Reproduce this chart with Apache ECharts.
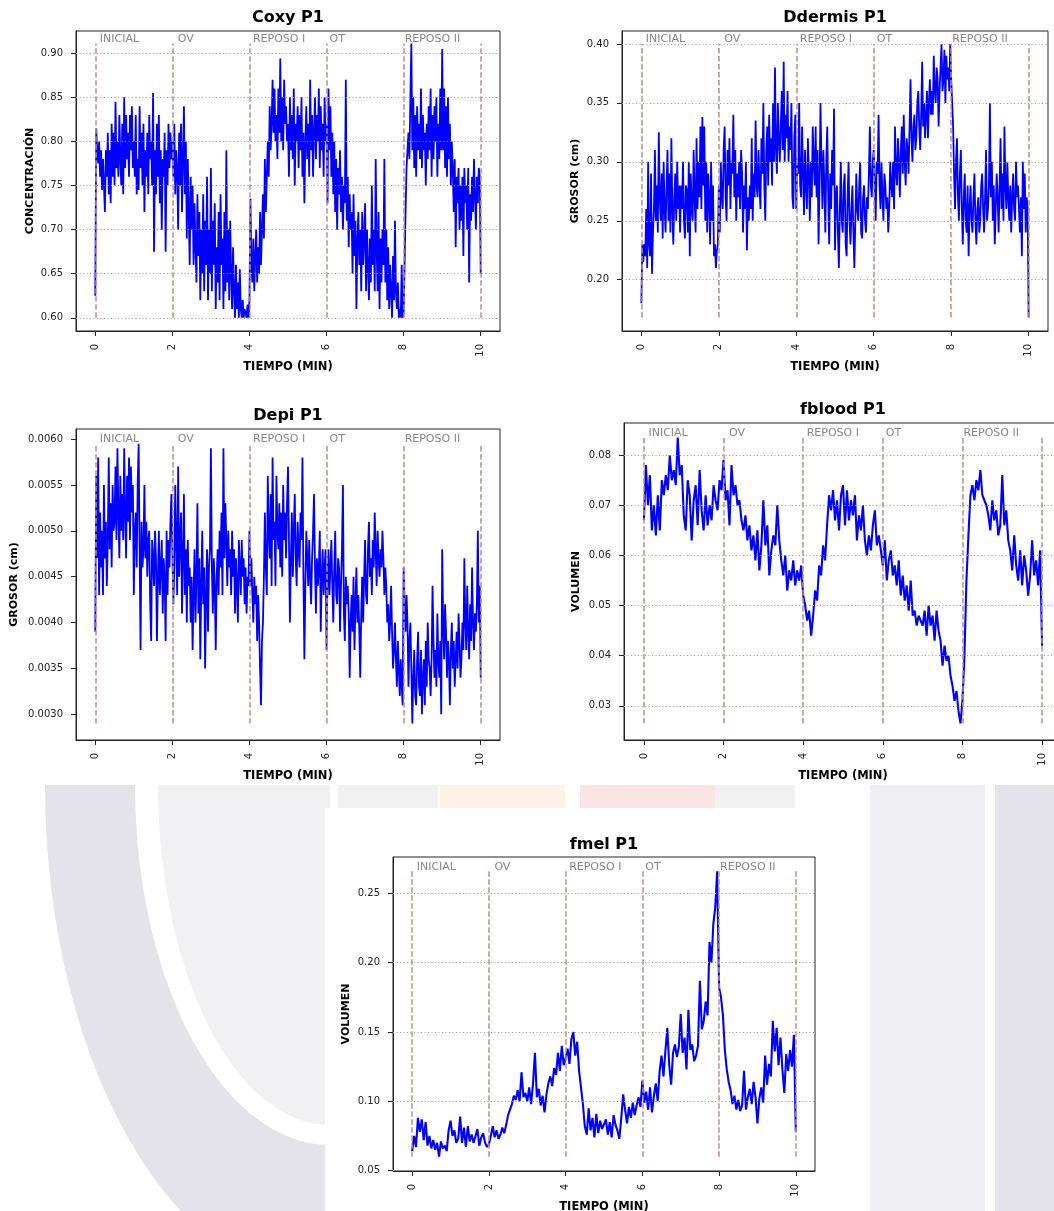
<!DOCTYPE html>
<html>
<head>
<meta charset="utf-8">
<script src="https://cdn.jsdelivr.net/npm/echarts@6.0.0/dist/echarts.min.js"></script>
<style>
    html, body { margin: 0; padding: 0; background: #fff; }
    #main { width: 1054px; height: 1211px; }
</style>
</head>
<body>
<div id="main"></div>
<script>
    // tiempo en minutos: 0.05 min por muestra (fblood, fmel) y 0.025 min (coxy, ddermis, depi)
    const tiempo = Array.from({length: 201}, (_, i) => +(i * 0.05).toFixed(2))
    const tiempoFino = Array.from({length: 401}, (_, i) => +(i * 0.025).toFixed(3))

    // fases del protocolo
    const faseNombres = ['INICIAL', 'OV', 'REPOSO I', 'OT', 'REPOSO II']
    const faseInicio = [0, 2, 4, 6, 8]
    const lineasFase = [0, 2, 4, 6, 8, 10]
    const xTicks = [0, 2, 4, 6, 8, 10]

    const coxy = [
        0.625, 0.815, 0.79, 0.775, 0.80, 0.76, 0.79, 0.745, 0.78, 0.75, 0.72, 0.79, 0.76, 0.81, 0.74, 0.79, 0.73, 0.82, 0.76, 0.81,
        0.75, 0.845, 0.77, 0.80, 0.76, 0.83, 0.78, 0.75, 0.82, 0.74, 0.85, 0.77, 0.83, 0.78, 0.81, 0.76, 0.83, 0.79, 0.84, 0.77,
        0.80, 0.76, 0.83, 0.74, 0.78, 0.745, 0.84, 0.77, 0.81, 0.75, 0.82, 0.72, 0.79, 0.76, 0.81, 0.74, 0.83, 0.78, 0.80, 0.75,
        0.855, 0.675, 0.79, 0.74, 0.82, 0.76, 0.83, 0.73, 0.79, 0.70, 0.78, 0.76, 0.81, 0.675, 0.79, 0.75, 0.82, 0.77, 0.81, 0.78,
        0.80, 0.76, 0.82, 0.74, 0.79, 0.77, 0.70, 0.81, 0.75, 0.82, 0.72, 0.78, 0.84, 0.74, 0.80, 0.69, 0.78, 0.72, 0.66, 0.76,
        0.70, 0.75, 0.66, 0.73, 0.68, 0.64, 0.74, 0.67, 0.72, 0.62, 0.70, 0.65, 0.74, 0.63, 0.71, 0.66, 0.76, 0.62, 0.70, 0.65,
        0.77, 0.63, 0.71, 0.66, 0.73, 0.61, 0.68, 0.64, 0.72, 0.62, 0.74, 0.66, 0.69, 0.61, 0.72, 0.63, 0.79, 0.64, 0.70, 0.62,
        0.71, 0.65, 0.61, 0.68, 0.63, 0.60, 0.66, 0.61, 0.64, 0.60, 0.655, 0.61, 0.60, 0.62, 0.60, 0.61, 0.605, 0.60, 0.615, 0.60,
        0.62, 0.735, 0.66, 0.64, 0.69, 0.63, 0.67, 0.70, 0.64, 0.68, 0.65, 0.72, 0.66, 0.70, 0.74, 0.69, 0.78, 0.72, 0.76, 0.80,
        0.76, 0.84, 0.79, 0.82, 0.87, 0.81, 0.86, 0.80, 0.83, 0.78, 0.86, 0.81, 0.894, 0.80, 0.85, 0.79, 0.87, 0.82, 0.84, 0.80,
        0.82, 0.76, 0.85, 0.79, 0.83, 0.78, 0.86, 0.75, 0.82, 0.80, 0.84, 0.77, 0.83, 0.79, 0.85, 0.76, 0.81, 0.73, 0.80, 0.84,
        0.78, 0.82, 0.76, 0.87, 0.79, 0.83, 0.76, 0.81, 0.85, 0.78, 0.83, 0.80, 0.86, 0.77, 0.84, 0.79, 0.82, 0.76, 0.85, 0.80,
        0.82, 0.73, 0.86, 0.79, 0.84, 0.76, 0.81, 0.74, 0.80, 0.72, 0.78, 0.70, 0.77, 0.74, 0.79, 0.72, 0.76, 0.70, 0.75, 0.73,
        0.87, 0.71, 0.76, 0.68, 0.74, 0.70, 0.72, 0.65, 0.74, 0.67, 0.71, 0.61, 0.69, 0.72, 0.66, 0.70, 0.63, 0.72, 0.66, 0.69,
        0.73, 0.63, 0.70, 0.66, 0.62, 0.69, 0.64, 0.75, 0.66, 0.70, 0.63, 0.78, 0.68, 0.63, 0.72, 0.61, 0.69, 0.64, 0.70, 0.66,
        0.78, 0.64, 0.70, 0.62, 0.68, 0.61, 0.66, 0.63, 0.60, 0.67, 0.62, 0.71, 0.63, 0.61, 0.64, 0.60, 0.61, 0.60, 0.66, 0.60,
        0.605, 0.66, 0.72, 0.77, 0.79, 0.81, 0.78, 0.85, 0.911, 0.79, 0.85, 0.77, 0.83, 0.76, 0.84, 0.79, 0.82, 0.78, 0.86, 0.77,
        0.83, 0.79, 0.81, 0.75, 0.82, 0.78, 0.84, 0.79, 0.86, 0.76, 0.83, 0.78, 0.84, 0.80, 0.85, 0.76, 0.82, 0.78, 0.86, 0.79,
        0.905, 0.79, 0.86, 0.77, 0.84, 0.76, 0.85, 0.78, 0.82, 0.75, 0.80, 0.77, 0.72, 0.78, 0.68, 0.76, 0.73, 0.77, 0.70, 0.75,
        0.71, 0.76, 0.67, 0.77, 0.73, 0.75, 0.70, 0.77, 0.64, 0.74, 0.71, 0.76, 0.72, 0.78, 0.74, 0.70, 0.76, 0.73, 0.77, 0.76,
        0.65
    ]
    const ddermis = [
        0.18, 0.23, 0.215, 0.23, 0.22, 0.26, 0.21, 0.30, 0.23, 0.22, 0.29, 0.205, 0.24, 0.26, 0.31, 0.25, 0.28, 0.24, 0.325, 0.27,
        0.25, 0.29, 0.235, 0.30, 0.26, 0.24, 0.28, 0.31, 0.25, 0.29, 0.24, 0.32, 0.26, 0.23, 0.27, 0.29, 0.25, 0.30, 0.26, 0.28,
        0.24, 0.28, 0.26, 0.30, 0.25, 0.235, 0.28, 0.275, 0.24, 0.30, 0.22, 0.29, 0.26, 0.25, 0.31, 0.27, 0.24, 0.32, 0.26, 0.30,
        0.27, 0.33, 0.26, 0.338, 0.28, 0.33, 0.25, 0.30, 0.24, 0.29, 0.27, 0.23, 0.30, 0.25, 0.28, 0.22, 0.23, 0.21, 0.225, 0.23,
        0.28, 0.24, 0.30, 0.27, 0.26, 0.31, 0.33, 0.27, 0.25, 0.31, 0.28, 0.32, 0.26, 0.30, 0.29, 0.34, 0.27, 0.31, 0.25, 0.29,
        0.27, 0.30, 0.26, 0.31, 0.29, 0.24, 0.28, 0.26, 0.30, 0.225, 0.27, 0.25, 0.28, 0.26, 0.32, 0.25, 0.29, 0.27, 0.335, 0.28,
        0.27, 0.31, 0.28, 0.26, 0.32, 0.29, 0.35, 0.28, 0.25, 0.31, 0.33, 0.28, 0.34, 0.30, 0.32, 0.28, 0.35, 0.30, 0.38, 0.31,
        0.29, 0.35, 0.32, 0.30, 0.33, 0.36, 0.31, 0.385, 0.30, 0.34, 0.32, 0.36, 0.30, 0.33, 0.31, 0.35, 0.27, 0.26, 0.32, 0.34,
        0.26, 0.30, 0.29, 0.35, 0.28, 0.27, 0.33, 0.29, 0.255, 0.31, 0.28, 0.26, 0.32, 0.29, 0.25, 0.30, 0.27, 0.33, 0.30, 0.28,
        0.33, 0.27, 0.31, 0.23, 0.28, 0.35, 0.30, 0.26, 0.31, 0.28, 0.24, 0.30, 0.33, 0.27, 0.23, 0.29, 0.26, 0.31, 0.28, 0.345,
        0.225, 0.27, 0.28, 0.24, 0.21, 0.26, 0.30, 0.25, 0.24, 0.28, 0.29, 0.23, 0.22, 0.27, 0.30, 0.25, 0.23, 0.26, 0.28, 0.24,
        0.21, 0.25, 0.29, 0.26, 0.25, 0.28, 0.30, 0.24, 0.235, 0.27, 0.28, 0.25, 0.24, 0.27, 0.26, 0.29, 0.33, 0.28, 0.27, 0.30,
        0.31, 0.28, 0.25, 0.30, 0.29, 0.34, 0.28, 0.26, 0.30, 0.27, 0.25, 0.29, 0.28, 0.26, 0.27, 0.24, 0.26, 0.30, 0.28, 0.27,
        0.30, 0.26, 0.33, 0.29, 0.28, 0.32, 0.30, 0.27, 0.31, 0.33, 0.29, 0.34, 0.30, 0.28, 0.32, 0.31, 0.29, 0.33, 0.37, 0.32,
        0.30, 0.33, 0.34, 0.31, 0.32, 0.35, 0.36, 0.33, 0.31, 0.34, 0.385, 0.33, 0.35, 0.32, 0.34, 0.36, 0.32, 0.35, 0.37, 0.34,
        0.36, 0.34, 0.39, 0.36, 0.35, 0.38, 0.37, 0.33, 0.36, 0.38, 0.40, 0.36, 0.37, 0.395, 0.35, 0.39, 0.37, 0.38, 0.36, 0.40,
        0.37, 0.35, 0.33, 0.29, 0.26, 0.30, 0.32, 0.27, 0.25, 0.29, 0.31, 0.26, 0.23, 0.27, 0.29, 0.25, 0.24, 0.28, 0.22, 0.26,
        0.28, 0.25, 0.24, 0.27, 0.29, 0.25, 0.23, 0.26, 0.27, 0.24, 0.25, 0.28, 0.29, 0.26, 0.24, 0.27, 0.31, 0.25, 0.26, 0.28,
        0.35, 0.27, 0.30, 0.25, 0.28, 0.23, 0.26, 0.29, 0.27, 0.24, 0.28, 0.32, 0.26, 0.29, 0.25, 0.33, 0.28, 0.26, 0.30, 0.27,
        0.25, 0.28, 0.24, 0.27, 0.29, 0.26, 0.25, 0.30, 0.27, 0.28, 0.26, 0.24, 0.27, 0.22, 0.30, 0.26, 0.29, 0.24, 0.27, 0.26,
        0.168
    ]
    const depi = [
        0.0039, 0.0056, 0.0047, 0.0058, 0.0043, 0.0052, 0.0046, 0.0050, 0.0043, 0.0055, 0.0047, 0.0051, 0.0044, 0.0049, 0.0058, 0.0048, 0.0053, 0.0046, 0.0055, 0.0050,
        0.0051, 0.0057, 0.0049, 0.0059, 0.0052, 0.0047, 0.0056, 0.0050, 0.0054, 0.0049, 0.0059, 0.0052, 0.0047, 0.0056, 0.0051, 0.0058, 0.0049, 0.0057, 0.0052, 0.0055,
        0.0043, 0.0050, 0.0052, 0.0046, 0.0055, 0.00595, 0.0048, 0.0037, 0.0051, 0.0046, 0.0048, 0.0055, 0.0047, 0.0051, 0.0045, 0.0049, 0.0050, 0.0042, 0.0038, 0.0049,
        0.0047, 0.0044, 0.0050, 0.0047, 0.0038, 0.0045, 0.0050, 0.0043, 0.0046, 0.0049, 0.0041, 0.0047, 0.0045, 0.0038, 0.0050, 0.0043, 0.0049, 0.0046, 0.0051, 0.0054,
        0.0048, 0.0042, 0.0046, 0.0055, 0.0049, 0.0043, 0.0057, 0.0045, 0.0049, 0.0052, 0.0041, 0.0047, 0.0054, 0.0043, 0.0048, 0.0040, 0.0049, 0.0044, 0.0046, 0.0040,
        0.0045, 0.0037, 0.0043, 0.0048, 0.0040, 0.0045, 0.0053, 0.0041, 0.0047, 0.0036, 0.0044, 0.0050, 0.0042, 0.0046, 0.0035, 0.0043, 0.0048, 0.0039, 0.0046, 0.0048,
        0.0059, 0.0046, 0.0041, 0.0047, 0.0044, 0.0037, 0.0045, 0.0048, 0.0043, 0.0050, 0.0046, 0.0052, 0.0043, 0.0059, 0.0047, 0.0053, 0.0049, 0.0044, 0.0050, 0.0046,
        0.0048, 0.0043, 0.0050, 0.0045, 0.0048, 0.0041, 0.0047, 0.0044, 0.0040, 0.0049, 0.0046, 0.0043, 0.0049, 0.0045, 0.0047, 0.0042, 0.0046, 0.0041, 0.0045, 0.0044,
        0.0050, 0.0044, 0.0047, 0.0043, 0.0040, 0.0045, 0.0042, 0.0044, 0.0038, 0.0043, 0.0040, 0.0035, 0.0031, 0.0038, 0.0040, 0.0045, 0.0052, 0.0046, 0.0043, 0.0056,
        0.0050, 0.0047, 0.0054, 0.0044, 0.0058, 0.0049, 0.0051, 0.0044, 0.0056, 0.0050, 0.0048, 0.0053, 0.0046, 0.0052, 0.0045, 0.0055, 0.0049, 0.0052, 0.0047, 0.0053,
        0.0057, 0.0049, 0.0040, 0.0047, 0.0052, 0.0045, 0.0050, 0.0054, 0.0047, 0.0044, 0.0051, 0.0048, 0.0046, 0.0052, 0.0049, 0.0058, 0.0045, 0.0036, 0.0044, 0.0050,
        0.0047, 0.0044, 0.0049, 0.0045, 0.0042, 0.0047, 0.0050, 0.0054, 0.0046, 0.0041, 0.0047, 0.0044, 0.0046, 0.0050, 0.0039, 0.0045, 0.0048, 0.0043, 0.0046, 0.0048,
        0.0037, 0.0045, 0.0048, 0.0043, 0.0046, 0.0049, 0.0044, 0.0040, 0.0046, 0.0050, 0.0043, 0.0042, 0.0047, 0.0046, 0.0039, 0.0044, 0.0048, 0.0055, 0.0041, 0.0038,
        0.0045, 0.0042, 0.0044, 0.0041, 0.0034, 0.0040, 0.0043, 0.0039, 0.0045, 0.0037, 0.0042, 0.0046, 0.0040, 0.0043, 0.0039, 0.0034, 0.0041, 0.0045, 0.0040, 0.0045,
        0.0049, 0.0043, 0.0042, 0.0048, 0.0051, 0.0045, 0.0047, 0.0043, 0.0049, 0.0046, 0.0052, 0.0048, 0.0044, 0.0050, 0.0047, 0.0045, 0.0048, 0.0046, 0.0050, 0.0047,
        0.0043, 0.0046, 0.0044, 0.0040, 0.0042, 0.0038, 0.0040, 0.0044, 0.0039, 0.0035, 0.0037, 0.0040, 0.0036, 0.0033, 0.0038, 0.0035, 0.0032, 0.0036, 0.0033, 0.0031,
        0.0046, 0.0042, 0.0039, 0.0043, 0.0040, 0.0033, 0.0038, 0.0040, 0.0035, 0.0029, 0.0034, 0.0037, 0.0032, 0.0031, 0.0036, 0.0039, 0.0033, 0.0032, 0.0037, 0.0030,
        0.0034, 0.0036, 0.0031, 0.0038, 0.0033, 0.0040, 0.0036, 0.0035, 0.0032, 0.0036, 0.0044, 0.0038, 0.0034, 0.0037, 0.0033, 0.0041, 0.0036, 0.0034, 0.0038, 0.0030,
        0.0048, 0.0040, 0.0036, 0.0042, 0.0039, 0.0034, 0.0038, 0.0036, 0.0031, 0.0037, 0.0040, 0.0035, 0.0038, 0.0033, 0.0036, 0.0039, 0.0035, 0.0041, 0.0038, 0.0034,
        0.0036, 0.0040, 0.0037, 0.0047, 0.0040, 0.0037, 0.0044, 0.0039, 0.0036, 0.0042, 0.0038, 0.0046, 0.0040, 0.0037, 0.0041, 0.0039, 0.0042, 0.0050, 0.0040, 0.0044,
        0.0034
    ]
    const fblood = [
        0.067, 0.078, 0.070, 0.076, 0.065, 0.070, 0.064, 0.072, 0.065, 0.075, 0.072, 0.076, 0.073, 0.080, 0.075, 0.077, 0.074, 0.0835, 0.076, 0.078,
        0.068, 0.065, 0.075, 0.072, 0.063, 0.071, 0.074, 0.066, 0.077, 0.069, 0.065, 0.072, 0.066, 0.070, 0.067, 0.074, 0.071, 0.069, 0.075, 0.073,
        0.079, 0.071, 0.073, 0.066, 0.078, 0.072, 0.074, 0.070, 0.071, 0.067, 0.065, 0.068, 0.063, 0.066, 0.061, 0.064, 0.059, 0.065, 0.057, 0.062,
        0.071, 0.062, 0.066, 0.056, 0.061, 0.064, 0.062, 0.070, 0.063, 0.059, 0.056, 0.060, 0.053, 0.057, 0.055, 0.059, 0.054, 0.057, 0.055, 0.058,
        0.052, 0.050, 0.047, 0.049, 0.044, 0.048, 0.053, 0.051, 0.058, 0.056, 0.062, 0.059, 0.066, 0.072, 0.069, 0.073, 0.067, 0.071, 0.065, 0.072,
        0.074, 0.066, 0.073, 0.067, 0.071, 0.068, 0.072, 0.063, 0.068, 0.065, 0.070, 0.063, 0.060, 0.064, 0.061, 0.066, 0.069, 0.062, 0.064, 0.061,
        0.058, 0.063, 0.055, 0.059, 0.061, 0.056, 0.058, 0.054, 0.059, 0.052, 0.056, 0.051, 0.054, 0.049, 0.055, 0.048, 0.049, 0.046, 0.048, 0.047,
        0.046, 0.049, 0.044, 0.050, 0.046, 0.048, 0.043, 0.049, 0.045, 0.043, 0.038, 0.042, 0.039, 0.040, 0.036, 0.034, 0.031, 0.033, 0.029, 0.0265,
        0.031, 0.040, 0.055, 0.064, 0.072, 0.074, 0.071, 0.075, 0.073, 0.077, 0.072, 0.071, 0.070, 0.068, 0.065, 0.071, 0.067, 0.069, 0.064, 0.066,
        0.076, 0.066, 0.069, 0.063, 0.061, 0.057, 0.064, 0.058, 0.055, 0.061, 0.054, 0.060, 0.057, 0.052, 0.056, 0.063, 0.056, 0.059, 0.054, 0.061,
        0.042
    ]
    const fmel = [
        0.064, 0.075, 0.067, 0.088, 0.078, 0.087, 0.072, 0.085, 0.068, 0.075, 0.066, 0.072, 0.065, 0.070, 0.060, 0.071, 0.066, 0.068, 0.064, 0.079,
        0.086, 0.075, 0.079, 0.070, 0.073, 0.089, 0.070, 0.081, 0.067, 0.082, 0.071, 0.076, 0.070, 0.075, 0.080, 0.068, 0.074, 0.077, 0.070, 0.067,
        0.069, 0.075, 0.082, 0.074, 0.079, 0.073, 0.076, 0.081, 0.077, 0.083, 0.090, 0.094, 0.098, 0.104, 0.101, 0.108, 0.100, 0.121, 0.103, 0.106,
        0.100, 0.110, 0.098, 0.113, 0.135, 0.103, 0.109, 0.097, 0.104, 0.092, 0.105, 0.113, 0.118, 0.111, 0.124, 0.119, 0.135, 0.122, 0.140, 0.126,
        0.131, 0.138, 0.127, 0.145, 0.150, 0.133, 0.143, 0.122, 0.110, 0.098, 0.082, 0.076, 0.095, 0.079, 0.088, 0.074, 0.091, 0.077, 0.086, 0.080,
        0.079, 0.087, 0.076, 0.085, 0.074, 0.090, 0.083, 0.079, 0.073, 0.088, 0.105, 0.094, 0.084, 0.096, 0.088, 0.099, 0.090, 0.097, 0.103, 0.096,
        0.115, 0.099, 0.107, 0.094, 0.110, 0.092, 0.104, 0.113, 0.100, 0.122, 0.133, 0.118, 0.136, 0.153, 0.126, 0.112, 0.135, 0.141, 0.132, 0.139,
        0.163, 0.135, 0.146, 0.123, 0.166, 0.137, 0.141, 0.129, 0.133, 0.140, 0.187, 0.152, 0.158, 0.172, 0.162, 0.215, 0.200, 0.228, 0.240, 0.266,
        0.182, 0.175, 0.162, 0.137, 0.123, 0.114, 0.108, 0.098, 0.104, 0.094, 0.101, 0.093, 0.097, 0.122, 0.094, 0.103, 0.109, 0.098, 0.114, 0.103,
        0.084, 0.102, 0.110, 0.099, 0.133, 0.112, 0.127, 0.118, 0.158, 0.136, 0.153, 0.126, 0.146, 0.123, 0.106, 0.134, 0.122, 0.137, 0.125, 0.148,
        0.078
    ]

    const coxyTicks = [0.60, 0.65, 0.70, 0.75, 0.80, 0.85, 0.90]
    const ddermisTicks = [0.20, 0.25, 0.30, 0.35, 0.40]
    const depiTicks = [0.0030, 0.0035, 0.0040, 0.0045, 0.0050, 0.0055, 0.0060]
    const fbloodTicks = [0.03, 0.04, 0.05, 0.06, 0.07, 0.08]
    const fmelTicks = [0.05, 0.10, 0.15, 0.20, 0.25]

    const FONT = 'DejaVu Sans'
    // desplazamiento (px) de cada etiqueta de fase respecto a su linea
    const faseOffset = [4.5, 5.5, 3.5, 3, 1]

    // caja = [left, top, width, height] del area de trazado
    const paneles = [
        {titulo: 'Coxy P1', tituloTop: 10, nombreY: 'CONCENTRACIÓN', datos: coxy, ticks: coxyTicks, dec: 2, rango: [0.585, 0.9253], caja: [76, 31, 424, 300], gapY: 40, grosor: 1.8},
        {titulo: 'Ddermis P1', tituloTop: 10, nombreY: 'GROSOR (cm)', datos: ddermis, ticks: ddermisTicks, dec: 2, rango: [0.1565, 0.411], caja: [622, 31, 426, 300], gapY: 41, grosor: 1.8},
        {titulo: 'Depi P1', tituloTop: 408, nombreY: 'GROSOR (cm)', datos: depi, ticks: depiTicks, dec: 4, rango: [0.00272, 0.00611], caja: [76, 429, 424, 311], gapY: 56, grosor: 1.8},
        {titulo: 'fblood P1', tituloTop: 402, nombreY: 'VOLUMEN', datos: fblood, ticks: fbloodTicks, dec: 2, rango: [0.0232, 0.0864], caja: [624, 423, 438, 317], gapY: 42, grosor: 2.1},
        {titulo: 'fmel P1', tituloTop: 837, nombreY: 'VOLUMEN', datos: fmel, ticks: fmelTicks, dec: 2, rango: [0.0497, 0.2763], caja: [393, 857, 422, 314], gapY: 41, grosor: 2.1},
    ]

    const chart = echarts.init(document.getElementById('main'), null, {renderer: 'canvas'})

    const title = [], grid = [], xAxis = [], yAxis = [], series = []

    paneles.forEach((p, i) => {
        const [l, t, w, h] = p.caja
        const ymin = Math.min(...p.datos)
        const ymax = Math.max(...p.datos)
        const ts = p.datos.length === tiempoFino.length ? tiempoFino : tiempo

        title.push({
            text: p.titulo, left: l + w / 2, top: p.tituloTop, textAlign: 'center', padding: 0,
            textStyle: {fontFamily: FONT, fontSize: 16, fontWeight: 'bold', color: '#000'}
        })
        grid.push({
            left: l, top: t, width: w, height: h, containLabel: false, outerBoundsMode: 'none',
            show: true, borderColor: '#222', borderWidth: 1, backgroundColor: 'transparent'
        })
        xAxis.push({
            gridIndex: i, type: 'value', min: -0.5, max: 10.5,
            axisLine: {show: true, onZero: false, lineStyle: {color: '#222', width: 1}},
            axisTick: {show: true, customValues: xTicks, length: 5, lineStyle: {color: '#222'}},
            axisLabel: {customValues: xTicks, rotate: 90, margin: 13, fontSize: 10, color: '#222', fontFamily: FONT},
            splitLine: {show: false},
            name: 'TIEMPO (MIN)', nameLocation: 'middle', nameGap: 26,
            nameTextStyle: {fontFamily: FONT, fontSize: 11.5, fontWeight: 'bold', color: '#000'}
        })
        yAxis.push({
            gridIndex: i, type: 'value', min: p.rango[0], max: p.rango[1],
            axisLine: {show: true, onZero: false, lineStyle: {color: '#222', width: 1}},
            axisTick: {show: true, customValues: p.ticks, length: 5, lineStyle: {color: '#222'}},
            axisLabel: {
                customValues: p.ticks, margin: 13, fontSize: 10, color: '#222', fontFamily: FONT,
                formatter: v => v.toFixed(p.dec)
            },
            splitLine: {show: false},
            name: p.nombreY, nameLocation: 'middle', nameGap: p.gapY,
            nameTextStyle: {fontFamily: FONT, fontSize: 11, fontWeight: 'bold', color: '#000'}
        })

        // etiquetas de fase + lineas de referencia
        series.push({
            type: 'scatter', xAxisIndex: i, yAxisIndex: i, z: 1,
            symbolSize: 0, silent: true, animation: false,
            itemStyle: {color: 'rgba(0,0,0,0)'},
            data: faseInicio.map((x, k) => ({
                value: [x, ymax, faseNombres[k]],
                label: {offset: [faseOffset[k], 1]}
            })),
            label: {
                show: true, position: [0, 0], align: 'left', verticalAlign: 'bottom',
                formatter: q => q.value[2], color: '#666', fontSize: 11, fontFamily: FONT
            },
            markLine: {
                silent: true, animation: false, symbol: ['none', 'none'],
                label: {show: false}, emphasis: {disabled: true},
                data: [
                    ...p.ticks.map(v => ({yAxis: v, lineStyle: {type: [1, 2.5], color: '#999', width: 1}})),
                    ...lineasFase.map(x => [
                        {coord: [x, ymin], lineStyle: {type: [5.5, 2.5], color: '#bc8f8f', width: 1.5}},
                        {coord: [x, ymax]}
                    ])
                ]
            }
        })
        series.push({
            type: 'line', xAxisIndex: i, yAxisIndex: i, z: 2,
            showSymbol: false, symbol: 'none', animation: false, silent: true,
            lineStyle: {color: '#0000ff', width: p.grosor},
            data: ts.map((x, k) => [x, p.datos[k]])
        })
    })

    // marca de agua del fondo (parte inferior): bandas en cuarto de elipse
    function banda(cx, cy, rxOut, ryOut, rxIn, ryIn) {
        const pts = []
        for (let a = 180; a >= 90; a -= 3) {
            const r = a * Math.PI / 180
            pts.push([cx + rxOut * Math.cos(r), cy + ryOut * Math.sin(r)])
        }
        for (let a = 90; a <= 180; a += 3) {
            const r = a * Math.PI / 180
            pts.push([cx + rxIn * Math.cos(r), cy + ryIn * Math.sin(r)])
        }
        return pts
    }
    const graphic = [
        {type: 'rect', z: -10, silent: true, shape: {x: 338, y: 785, width: 100, height: 30}, style: {fill: '#f1f1f4'}},
        {type: 'rect', z: -10, silent: true, shape: {x: 440, y: 785, width: 125, height: 30}, style: {fill: '#fdf2e6'}},
        {type: 'rect', z: -10, silent: true, shape: {x: 580, y: 785, width: 135, height: 30}, style: {fill: '#f9e5e5'}},
        {type: 'rect', z: -10, silent: true, shape: {x: 715, y: 785, width: 80, height: 30}, style: {fill: '#f1f1f4'}},
        {type: 'rect', z: -10, silent: true, shape: {x: 870, y: 785, width: 115, height: 426}, style: {fill: '#efeff3'}},
        {type: 'rect', z: -10, silent: true, shape: {x: 995, y: 785, width: 59, height: 426}, style: {fill: '#e3e3e9'}},
        {type: 'polygon', z: -10, silent: true, shape: {points: banda(330, 785, 172, 340, 0, 0)}, style: {fill: '#f1f1f4'}},
        {type: 'polygon', z: -10, silent: true, shape: {points: banda(330, 785, 285, 500, 195, 360)}, style: {fill: '#e3e3e9'}},
        {type: 'rect', z: -9, silent: true, shape: {x: 325, y: 808, width: 545, height: 403}, style: {fill: '#ffffff'}},
    ]

    chart.setOption({
        animation: false,
        backgroundColor: '#ffffff',
        textStyle: {fontFamily: FONT},
        title, grid, xAxis, yAxis, series, graphic
    })
</script>
</body>
</html>
